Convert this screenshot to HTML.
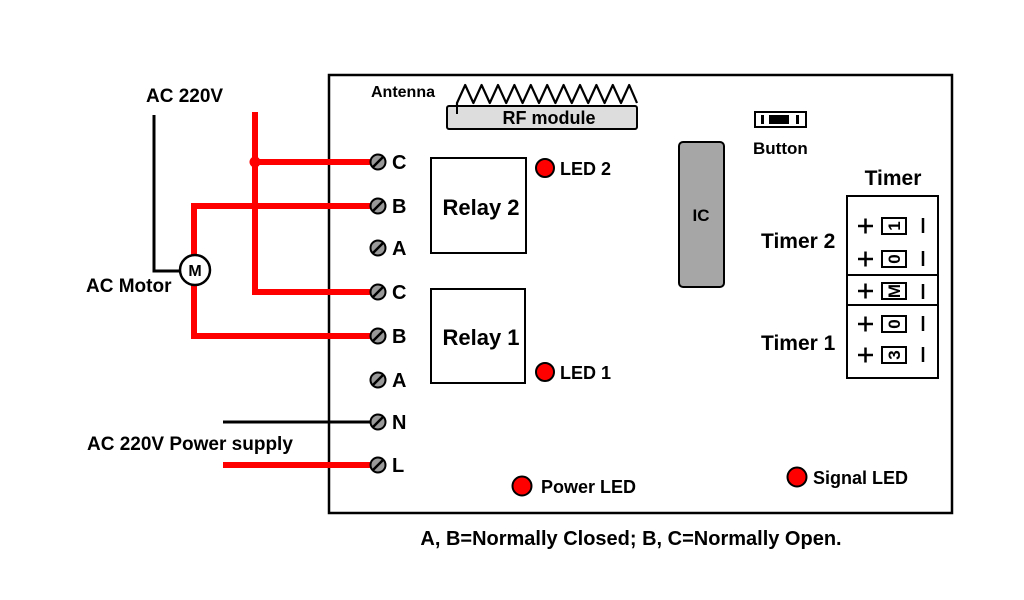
<!DOCTYPE html>
<html><head><meta charset="utf-8"><style>html,body{margin:0;padding:0;background:#fff}svg{display:block}text{font-family:"Liberation Sans",Arial,sans-serif;font-weight:bold;fill:#000}</style></head>
<body>
<svg width="1024" height="600" viewBox="0 0 1024 600" xmlns="http://www.w3.org/2000/svg">
<rect x="0" y="0" width="1024" height="600" fill="#fff"/>
<rect x="329" y="75" width="623" height="438" fill="none" stroke="#000" stroke-width="2.5"/>
<g fill="none" stroke-linecap="butt">
<polyline points="154,115 154,271 181,271" stroke="#000" stroke-width="3"/>
<line x1="223" y1="422" x2="370" y2="422" stroke="#000" stroke-width="3"/>
<g stroke="#f00" stroke-width="6">
<polyline points="255,112 255,292 370,292"/>
<line x1="255" y1="162" x2="370" y2="162"/>
<polyline points="370,206 194,206 194,255"/>
<polyline points="194,285 194,336 370,336"/>
<line x1="223" y1="465" x2="370" y2="465"/>
</g>
</g>
<circle cx="255" cy="162" r="5.5" fill="#f00"/>
<circle cx="195" cy="270" r="15" fill="#fff" stroke="#000" stroke-width="2.5"/>
<text x="195" y="276" font-size="16" text-anchor="middle">M</text>
<text x="146" y="102" font-size="19">AC 220V</text>
<text x="86" y="292" font-size="19">AC Motor</text>
<text x="87" y="450" font-size="19">AC 220V Power supply</text>
<g stroke="#000" stroke-width="2">
<g fill="#999">
<circle cx="378" cy="162" r="7.5"/><circle cx="378" cy="206" r="7.5"/><circle cx="378" cy="248" r="7.5"/>
<circle cx="378" cy="292" r="7.5"/><circle cx="378" cy="336" r="7.5"/><circle cx="378" cy="380" r="7.5"/>
<circle cx="378" cy="422" r="7.5"/><circle cx="378" cy="465" r="7.5"/>
</g>
<g stroke-width="2.5">
<line x1="373" y1="167" x2="383" y2="157"/><line x1="373" y1="211" x2="383" y2="201"/><line x1="373" y1="253" x2="383" y2="243"/>
<line x1="373" y1="297" x2="383" y2="287"/><line x1="373" y1="341" x2="383" y2="331"/><line x1="373" y1="385" x2="383" y2="375"/>
<line x1="373" y1="427" x2="383" y2="417"/><line x1="373" y1="470" x2="383" y2="460"/>
</g>
</g>
<g font-size="20">
<text x="392" y="169">C</text><text x="392" y="213">B</text><text x="392" y="255">A</text>
<text x="392" y="299">C</text><text x="392" y="343">B</text><text x="392" y="387">A</text>
<text x="392" y="429">N</text><text x="392" y="472">L</text>
</g>
<text x="371" y="97" font-size="16">Antenna</text>
<polyline points="457,118 457,103 465.2,85 473.4,103 481.6,85 489.8,103 498,85 506.2,103 514.4,85 522.6,103 530.8,85 539,103 547.2,85 555.4,103 563.6,85 571.8,103 580,85 588.2,103 596.4,85 604.6,103 612.8,85 621,103 629.2,85 637,103" fill="none" stroke="#000" stroke-width="2.2" stroke-linejoin="round"/>
<rect x="447" y="106" width="190" height="23" rx="2" fill="#ddd" stroke="#000" stroke-width="2"/>
<line x1="457" y1="103" x2="457" y2="114" stroke="#000" stroke-width="2"/>
<text x="549" y="124" font-size="18" text-anchor="middle">RF module</text>
<rect x="431" y="158" width="95" height="95" fill="#fff" stroke="#000" stroke-width="2"/>
<text x="481" y="215" font-size="22" text-anchor="middle">Relay 2</text>
<rect x="431" y="289" width="94" height="94" fill="#fff" stroke="#000" stroke-width="2"/>
<text x="481" y="345" font-size="22" text-anchor="middle">Relay 1</text>
<g fill="#f00" stroke="#000" stroke-width="2">
<circle cx="545" cy="168" r="9"/><circle cx="545" cy="372" r="9"/>
<circle cx="522" cy="486" r="9.5"/><circle cx="797" cy="477" r="9.5"/>
</g>
<text x="560" y="175" font-size="18">LED 2</text>
<text x="560" y="379" font-size="18">LED 1</text>
<text x="541" y="493" font-size="18">Power LED</text>
<text x="813" y="484" font-size="18">Signal LED</text>
<rect x="679" y="142" width="45" height="145" rx="4" fill="#a6a6a6" stroke="#000" stroke-width="2"/>
<text x="701" y="221" font-size="17" text-anchor="middle">IC</text>
<rect x="755" y="112" width="51" height="15" fill="#fff" stroke="#000" stroke-width="2"/>
<rect x="761" y="115" width="3" height="9" fill="#000"/>
<rect x="769" y="115" width="20" height="9" fill="#000"/>
<rect x="796" y="115" width="3" height="9" fill="#000"/>
<text x="753" y="154" font-size="17">Button</text>
<text x="893" y="185" font-size="21" text-anchor="middle">Timer</text>
<text x="761" y="248" font-size="21">Timer 2</text>
<text x="761" y="350" font-size="21">Timer 1</text>
<rect x="847" y="196" width="91" height="182" fill="#fff" stroke="#000" stroke-width="2"/>
<line x1="847" y1="275" x2="938" y2="275" stroke="#000" stroke-width="2"/>
<line x1="847" y1="305" x2="938" y2="305" stroke="#000" stroke-width="2"/>
<g stroke="#000" stroke-width="2.5">
<line x1="858" y1="226" x2="873" y2="226"/><line x1="865.5" y1="218.5" x2="865.5" y2="233.5"/>
<line x1="858" y1="259" x2="873" y2="259"/><line x1="865.5" y1="251.5" x2="865.5" y2="266.5"/>
<line x1="858" y1="291" x2="873" y2="291"/><line x1="865.5" y1="283.5" x2="865.5" y2="298.5"/>
<line x1="858" y1="324" x2="873" y2="324"/><line x1="865.5" y1="316.5" x2="865.5" y2="331.5"/>
<line x1="858" y1="355" x2="873" y2="355"/><line x1="865.5" y1="347.5" x2="865.5" y2="362.5"/>
<line x1="923" y1="218" x2="923" y2="233"/><line x1="923" y1="251" x2="923" y2="266"/>
<line x1="923" y1="284" x2="923" y2="299"/><line x1="923" y1="316" x2="923" y2="331"/>
<line x1="923" y1="347" x2="923" y2="362"/>
</g>
<g fill="#fff" stroke="#000" stroke-width="2">
<rect x="882" y="218" width="24" height="16"/><rect x="882" y="251" width="24" height="16"/>
<rect x="882" y="283" width="24" height="16"/><rect x="882" y="316" width="24" height="16"/>
<rect x="882" y="347" width="24" height="16"/>
</g>
<g font-size="17" text-anchor="middle">
<text transform="translate(894,226) rotate(-90)" y="6">1</text>
<text transform="translate(894,259) rotate(-90)" y="6">0</text>
<text transform="translate(894,291) rotate(-90)" y="6">M</text>
<text transform="translate(894,324) rotate(-90)" y="6">0</text>
<text transform="translate(894,355) rotate(-90)" y="6">3</text>
</g>
<text x="631" y="545" font-size="20" text-anchor="middle">A, B=Normally Closed; B, C=Normally Open.</text>
</svg>
</body></html>
